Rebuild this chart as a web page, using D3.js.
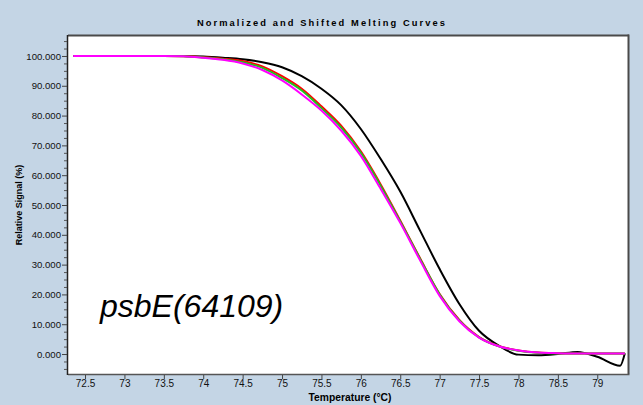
<!DOCTYPE html>
<html>
<head>
<meta charset="utf-8">
<script src="https://cdn.jsdelivr.net/npm/d3@7"></script>
<style>
  html, body { margin: 0; padding: 0; background: #c4d5e5; }
  svg { display: block; }
</style>
</head>
<body>
<svg id="chart" width="643" height="405"></svg>
<script>
// Temperature grid (°C) shared by all melt curves
const temps = [72.35, 73.0, 73.5, 73.75, 74.0, 74.25, 74.5, 74.75, 75.0, 75.25, 75.5, 75.75,
  76.0, 76.25, 76.5, 76.75, 77.0, 77.25, 77.5, 77.75, 78.0, 78.25, 78.5, 78.75, 79.0, 79.29, 79.35];

// Normalized signal (%) for each sample
const blackSignal = [100, 100, 100, 100, 99.8, 99.4, 98.9, 97.9, 96.2, 93.2, 89.0, 83.5,
  75.5, 65.5, 54.5, 41.5, 28.5, 16.8, 7.8, 2.8, -0.2, -0.4, 0.0, 0.7, -0.9, -3.9, 0.3];
const redSignal = [100, 100, 100, 99.9, 99.6, 99.1, 98.3, 96.5, 93.2, 89.0, 83.1, 76.6,
  68.0, 57.0, 44.8, 32.2, 20.1, 11.4, 5.7, 2.7, 1.2, 0.5, 0.3, 0.2, 0.2, 0.2, 0.2];
const greenSignal = [100, 100, 100, 99.9, 99.5, 98.9, 97.9, 96.0, 92.6, 88.4, 82.5, 76.0,
  67.5, 56.5, 44.5, 32.0, 20.0, 11.3, 5.6, 2.6, 1.1, 0.4, 0.2, 0.2, 0.2, 0.2, 0.2];
const magentaSignal = [100, 100, 100, 99.9, 99.4, 98.7, 97.5, 95.3, 91.8, 87.1, 81.7, 75.0,
  66.5, 55.5, 44.0, 31.5, 19.5, 11.0, 5.5, 2.6, 1.2, 0.5, 0.3, 0.2, 0.2, 0.2, 0.2];

const xTickValues = [72.5, 73, 73.5, 74, 74.5, 75, 75.5, 76, 76.5, 77, 77.5, 78, 78.5, 79];
const xTickLabels = ["72.5", "73", "73.5", "74", "74.5", "75", "75.5", "76", "76.5", "77", "77.5", "78", "78.5", "79"];
const yTickValues = [0, 10, 20, 30, 40, 50, 60, 70, 80, 90, 100];
const yTickLabels = ["0.000", "10.000", "20.000", "30.000", "40.000", "50.000", "60.000", "70.000", "80.000", "90.000", "100.000"];

const series = [
  { name: "black", values: blackSignal, color: "#000000" },
  { name: "red", values: redSignal, color: "#ff0000" },
  { name: "green", values: greenSignal, color: "#1fc21f" },
  { name: "magenta", values: magentaSignal, color: "#ff00ff" }
];

const titleText = "Normalized and Shifted Melting Curves";
const xLabel = "Temperature (°C)";
const yLabel = "Relative Signal (%)";
const sampleName = "psbE(64109)";

const plot = { left: 68, top: 36, right: 628, bottom: 374 };
const svg = d3.select("#chart");
const font = "'Liberation Sans', Arial, sans-serif";

const x = d3.scaleLinear().domain([72.284, 79.39]).range([plot.left, plot.right]);
const y = d3.scaleLinear().domain([-6.7, 106.7]).range([plot.bottom, plot.top]);

// Title
svg.append("text")
  .attr("x", 322).attr("y", 25.5)
  .attr("text-anchor", "middle")
  .attr("font-family", font).attr("font-size", 9.3).attr("font-weight", "bold")
  .attr("letter-spacing", 2.1)
  .attr("fill", "#000")
  .text(titleText);

// Plot area
svg.append("rect")
  .attr("x", plot.left).attr("y", plot.top)
  .attr("width", plot.right - plot.left).attr("height", plot.bottom - plot.top)
  .attr("fill", "#ffffff");

svg.append("clipPath").attr("id", "plotclip")
  .append("rect")
  .attr("x", plot.left).attr("y", plot.top)
  .attr("width", plot.right - plot.left).attr("height", plot.bottom - plot.top);

// Curves
const line = d3.line()
  .x((d, i) => x(temps[i]))
  .y(d => y(d))
  .curve(d3.curveMonotoneX);

svg.append("g").attr("clip-path", "url(#plotclip)")
  .selectAll("path")
  .data(series)
  .join("path")
  .attr("d", d => line(d.values))
  .attr("fill", "none")
  .attr("stroke", d => d.color)
  .attr("stroke-width", 2)
  .attr("stroke-linejoin", "round");

// Frame
svg.append("line").attr("x1", plot.left).attr("x2", plot.right + 1)
  .attr("y1", plot.top - 0.5).attr("y2", plot.top - 0.5)
  .attr("stroke", "#4a4a4a").attr("stroke-width", 2);
svg.append("line").attr("x1", plot.right + 0.5).attr("x2", plot.right + 0.5)
  .attr("y1", plot.top - 1.5).attr("y2", plot.bottom)
  .attr("stroke", "#4a4a4a").attr("stroke-width", 2);
svg.append("line").attr("x1", plot.left).attr("x2", plot.right + 1.5)
  .attr("y1", plot.bottom + 0.5).attr("y2", plot.bottom + 0.5)
  .attr("stroke", "#555555").attr("stroke-width", 1.5);
svg.append("line").attr("x1", plot.left - 0.5).attr("x2", plot.left - 0.5)
  .attr("y1", plot.top - 1).attr("y2", plot.bottom + 1)
  .attr("stroke", "#222222").attr("stroke-width", 1.5);

// X axis
const xAxis = d3.axisBottom(x)
  .tickValues(xTickValues)
  .tickFormat((d, i) => xTickLabels[i])
  .tickSize(4).tickSizeOuter(0).tickPadding(0.5);
const gx = svg.append("g").attr("transform", `translate(0,${plot.bottom + 1})`).call(xAxis);
gx.select(".domain").remove();
gx.selectAll(".tick line").attr("stroke", "#444");
gx.selectAll(".tick text").attr("font-family", font).attr("font-size", 10).attr("fill", "#111");

// Y axis minor ticks
const yMinor = d3.range(-5, 106, 2.5).filter(v => v % 10 !== 0);
const gyMinor = svg.append("g").attr("transform", `translate(${plot.left - 1},0)`)
  .call(d3.axisLeft(y).tickValues(yMinor).tickFormat("").tickSize(3).tickSizeOuter(0));
gyMinor.select(".domain").remove();
gyMinor.selectAll(".tick line").attr("stroke", "#555");

// Y axis
const yAxis = d3.axisLeft(y)
  .tickValues(yTickValues)
  .tickFormat((d, i) => yTickLabels[i])
  .tickSize(5).tickSizeOuter(0).tickPadding(1);
const gy = svg.append("g").attr("transform", `translate(${plot.left - 1},0)`).call(yAxis);
gy.select(".domain").remove();
gy.selectAll(".tick line").attr("stroke", "#444");
gy.selectAll(".tick text").attr("font-family", font).attr("font-size", 9.6).attr("fill", "#111");

// Axis titles
svg.append("text")
  .attr("x", 350).attr("y", 400.5)
  .attr("text-anchor", "middle")
  .attr("font-family", font).attr("font-size", 10.3).attr("font-weight", "bold")
  .text(xLabel);

svg.append("text")
  .attr("transform", "translate(22,205) rotate(-90)")
  .attr("text-anchor", "middle")
  .attr("font-family", font).attr("font-size", 9).attr("font-weight", "bold")
  .text(yLabel);

// Sample annotation
svg.append("text")
  .attr("x", 100).attr("y", 317)
  .attr("font-family", font).attr("font-size", 32).attr("font-style", "italic")
  .attr("fill", "#000")
  .text(sampleName);
</script>
</body>
</html>
